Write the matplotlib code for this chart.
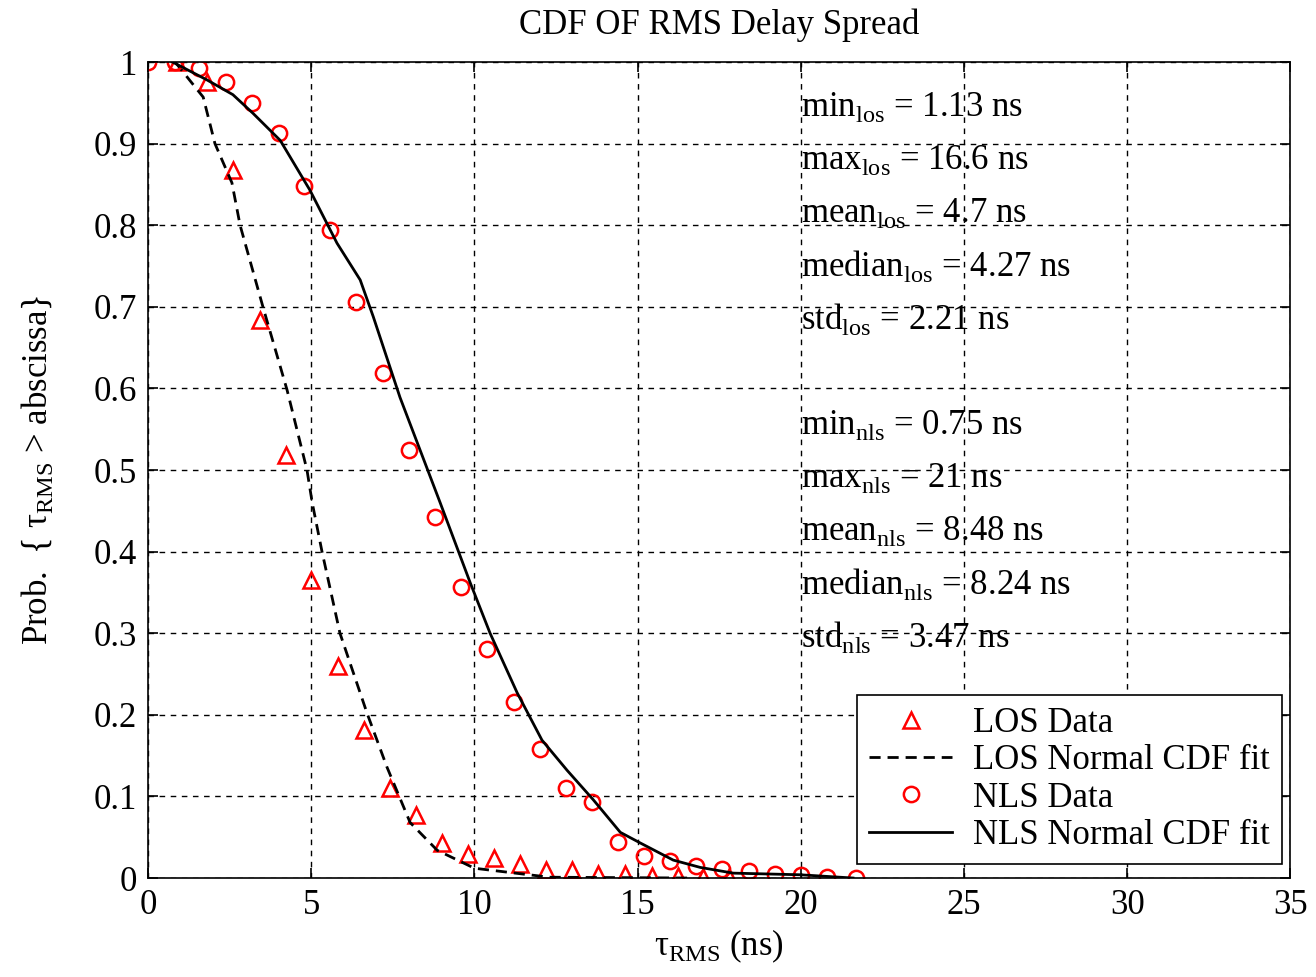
import matplotlib.pyplot as plt

plt.rcParams['font.family'] = ['Liberation Serif', 'DejaVu Serif']
plt.rcParams['mathtext.fontset'] = 'custom'
plt.rcParams['mathtext.rm'] = 'Liberation Serif'

# LOS measured points
los_x = [0.9, 1.8, 2.6, 3.43, 4.23, 5.0, 5.82, 6.62, 7.42, 8.2, 9.0, 9.8, 10.6,
         11.4, 12.2, 13.0, 13.8, 14.6, 15.45, 16.25, 17.0, 17.8]
los_y = [1.0, 0.975, 0.868, 0.684, 0.518, 0.365, 0.26, 0.181, 0.11, 0.077, 0.043,
         0.029, 0.024, 0.017, 0.01, 0.01, 0.005, 0.005, 0.003, 0.003, 0.001, 0.001]

# LOS normal fit
los_fit_x = [0.83, 1.69, 2.05, 2.57, 2.82, 3.52, 4.26, 4.87, 5.03, 5.33, 5.88,
             6.71, 7.32, 8.03, 8.86, 10.0, 12.3, 16.6]
los_fit_y = [1.0, 0.957, 0.90, 0.852, 0.80, 0.70, 0.598, 0.50, 0.46, 0.40, 0.30,
             0.202, 0.136, 0.068, 0.034, 0.012, 0.001, 0.0]

# NLS measured points
nls_x = [0.0, 0.83, 1.56, 2.39, 3.2, 4.0, 4.78, 5.58, 6.37, 7.2, 8.0, 8.8, 9.6,
         10.4, 11.2, 12.0, 12.8, 13.6, 14.4, 15.2, 16.0, 16.8, 17.6, 18.4, 19.2,
         20.0, 20.8, 21.7]
nls_y = [1.0, 1.0, 0.993, 0.975, 0.95, 0.913, 0.848, 0.794, 0.706, 0.619, 0.525,
         0.442, 0.357, 0.281, 0.216, 0.158, 0.11, 0.093, 0.044, 0.027, 0.021,
         0.015, 0.011, 0.009, 0.005, 0.004, 0.001, 0.0]

# NLS normal fit
nls_fit_x = [0.75, 1.81, 2.6, 3.22, 4.05, 4.96, 5.79, 6.5, 6.9, 7.72, 8.95, 9.87, 10.48,
             11.31, 12.07, 12.84, 13.64, 14.47, 15.08, 16.09, 16.92, 17.93, 19.98, 21.6]
nls_fit_y = [1.0, 0.978, 0.96, 0.937, 0.904, 0.843, 0.778, 0.733, 0.688, 0.589, 0.46,
             0.362, 0.30, 0.227, 0.169, 0.132, 0.096, 0.056, 0.043, 0.022, 0.013,
             0.006, 0.004, 0.0]

los_stats = [('min', '1.13'), ('max', '16.6'), ('mean', '4.7'), ('median', '4.27'), ('std', '2.21')]
nls_stats = [('min', '0.75'), ('max', '21'), ('mean', '8.48'), ('median', '8.24'), ('std', '3.47')]

fs = 25

fig = plt.figure(figsize=(13.16, 9.77), dpi=100)
ax = fig.add_axes([0.1125, 0.1013, 0.868, 0.8352])

ax.plot(los_x, los_y, linestyle='none', marker='^', markersize=12, markerfacecolor='none',
        markeredgecolor='red', markeredgewidth=1.8, label='LOS Data')
ax.plot(los_fit_x, los_fit_y, 'k--', linewidth=2, dashes=(4, 2.5), label='LOS Normal CDF fit')
ax.plot(nls_x, nls_y, linestyle='none', marker='o', markersize=11, markerfacecolor='none',
        markeredgecolor='red', markeredgewidth=1.8, label='NLS Data')
ax.plot(nls_fit_x, nls_fit_y, 'k-', linewidth=2, label='NLS Normal CDF fit')

ax.set_xlim(0, 35)
ax.set_ylim(0, 1)
ax.set_xticks(range(0, 36, 5))
ax.set_yticks([i / 10 for i in range(11)])
ax.set_yticklabels(['0', '0.1', '0.2', '0.3', '0.4', '0.5', '0.6', '0.7', '0.8', '0.9', '1'])
ax.tick_params(direction='in', top=True, right=True, labelsize=fs, length=7, width=1.2, pad=8)
ax.grid(True, color='black', linestyle=(0, (4, 4)), linewidth=1)
for s in ax.spines.values():
    s.set_linewidth(1.2)

ax.set_title('CDF OF RMS Delay Spread', fontsize=fs, pad=20)
ax.set_xlabel(r'τ$_{\rm RMS}$ (ns)', fontsize=fs, labelpad=4)
ax.set_ylabel(r'Prob.  { τ$_{\rm RMS}$ > abscissa}', fontsize=fs, labelpad=28)

y = 0.945
for name, val in los_stats:
    ax.text(20.0, y, name + r'$_{\rm los}$ = ' + val + ' ns', fontsize=fs, va='center')
    y -= 0.065
y = 0.555
for name, val in nls_stats:
    ax.text(20.0, y, name + r'$_{\rm nls}$ = ' + val + ' ns', fontsize=fs, va='center')
    y -= 0.065

leg = ax.legend(loc='lower right', fontsize=fs, fancybox=False, framealpha=1,
                edgecolor='black', borderpad=0.35, labelspacing=0.12, handlelength=2.4,
                handletextpad=0.6, bbox_to_anchor=(1.008, -0.004))
leg.get_frame().set_linewidth(1.2)

fig.savefig('out.png', dpi=100)
